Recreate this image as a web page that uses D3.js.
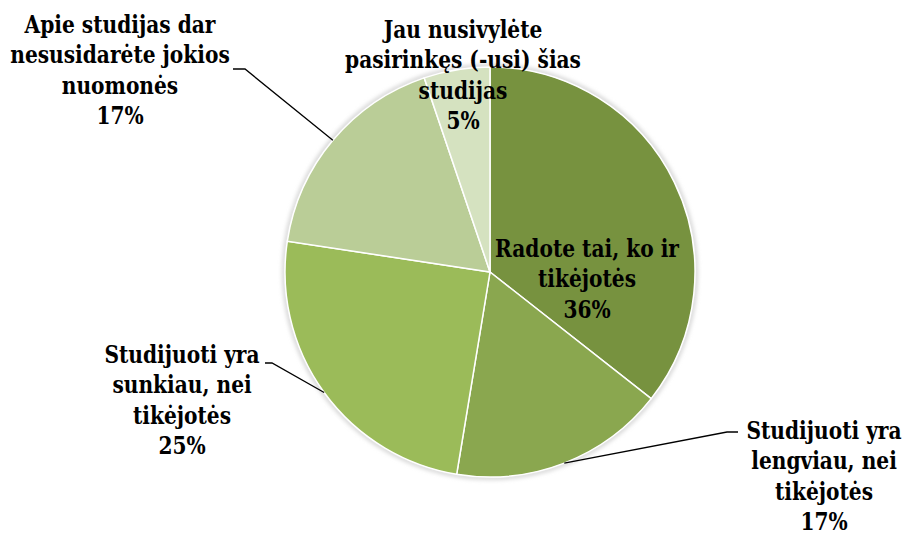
<!DOCTYPE html>
<html>
<head>
<meta charset="utf-8">
<script src="https://cdn.jsdelivr.net/npm/d3@7"></script>
<style>
  body { margin: 0; background: #fff; }
</style>
</head>
<body>
<svg id="chart" width="907" height="534"></svg>
<script>
// data (slice shares, in %)
var categories = [
  ["Radote tai, ko ir", "tikėjotės"],
  ["Studijuoti yra", "lengviau, nei", "tikėjotės"],
  ["Studijuoti yra", "sunkiau, nei", "tikėjotės"],
  ["Apie studijas dar", "nesusidarėte jokios", "nuomonės"],
  ["Jau nusivylėte", "pasirinkęs (-usi) šias", "studijas"]
];
var values = [35.6, 17.0, 24.8, 17.4, 5.2];
var colors = ["#77923f", "#8aa74f", "#9bbb59", "#bacd97", "#d5e2c0"];

// label placement, offsets from the pie centre (first baseline)
var labelPos = [
  {dx: 97, dy: -15, leader: null},
  {dx: 334, dy: 167, leader: [[237, 160], [248, 160]]},
  {dx: -308, dy: 91, leader: [[-218, 91], [-225, 91]]},
  {dx: -370, dy: -239, leader: [[-245, -203], [-257, -203]]},
  {dx: -27, dy: -234, leader: null}
];

var width = 907, height = 534,
    cx = 490, cy = 272, radius = 205,
    lineH = 30.3,
    fontSize = 24,
    fontFamily = "DejaVu Serif, Liberation Serif, serif";

var svg = d3.select("#chart");

// squeeze the serif face so "Radote tai, ko ir" comes out about 184px wide
var probe = svg.append("text")
    .attr("font-family", fontFamily)
    .attr("font-weight", "bold")
    .attr("font-size", fontSize)
    .text(categories[0][0]);
var squeeze = Math.min(1, 184 / probe.node().getComputedTextLength());
probe.remove();

var defs = svg.append("defs");
defs.append("filter").attr("id", "soft")
    .attr("x", "-10%").attr("y", "-10%").attr("width", "120%").attr("height", "120%")
  .append("feGaussianBlur").attr("stdDeviation", 2);

var g = svg.append("g").attr("transform", "translate(" + cx + "," + cy + ")");

var total = d3.sum(values);
var data = values.map(function(v, i) {
  return {value: v, lines: categories[i], color: colors[i], pos: labelPos[i]};
});

var pie = d3.pie().sort(null).value(function(d) { return d.value; });
var arc = d3.arc().innerRadius(0).outerRadius(radius);
var edge = d3.arc().innerRadius(radius).outerRadius(radius);

// soft rim around the pie
g.append("circle")
    .attr("r", radius + 1)
    .attr("fill", "none")
    .attr("stroke", "#c8c8c8")
    .attr("stroke-width", 3)
    .attr("filter", "url(#soft)");

var arcs = pie(data);

g.selectAll(".slice")
    .data(arcs)
  .enter().append("path")
    .attr("class", "slice")
    .attr("d", arc)
    .attr("fill", function(d) { return d.data.color; })
    .attr("stroke", "#fff")
    .attr("stroke-width", 1.5);

// leader lines
g.selectAll(".leader")
    .data(arcs.filter(function(d) { return d.data.pos.leader; }))
  .enter().append("polyline")
    .attr("class", "leader")
    .attr("fill", "none")
    .attr("stroke", "#000")
    .attr("stroke-width", 1.3)
    .attr("points", function(d) {
      var p = edge.centroid(d);
      var l = d.data.pos.leader;
      return [p, l[0], l[1]].map(function(q) { return q.join(","); }).join(" ");
    });

// labels
var labels = g.selectAll(".label")
    .data(arcs)
  .enter().append("text")
    .attr("class", "label")
    .attr("text-anchor", "middle")
    .attr("font-family", fontFamily)
    .attr("font-weight", "bold")
    .attr("font-size", fontSize)
    .attr("fill", "#000")
    .attr("transform", function(d) {
      return "translate(" + d.data.pos.dx + "," + d.data.pos.dy + ") scale(" + squeeze + ",1)";
    });

labels.each(function(d) {
  var t = d3.select(this);
  var pct = Math.round(d.data.value / total * 100) + "%";
  d.data.lines.concat([pct]).forEach(function(line, i) {
    t.append("tspan")
      .attr("x", 0)
      .attr("dy", i === 0 ? 0 : lineH)
      .text(line);
  });
});
</script>
</body>
</html>
